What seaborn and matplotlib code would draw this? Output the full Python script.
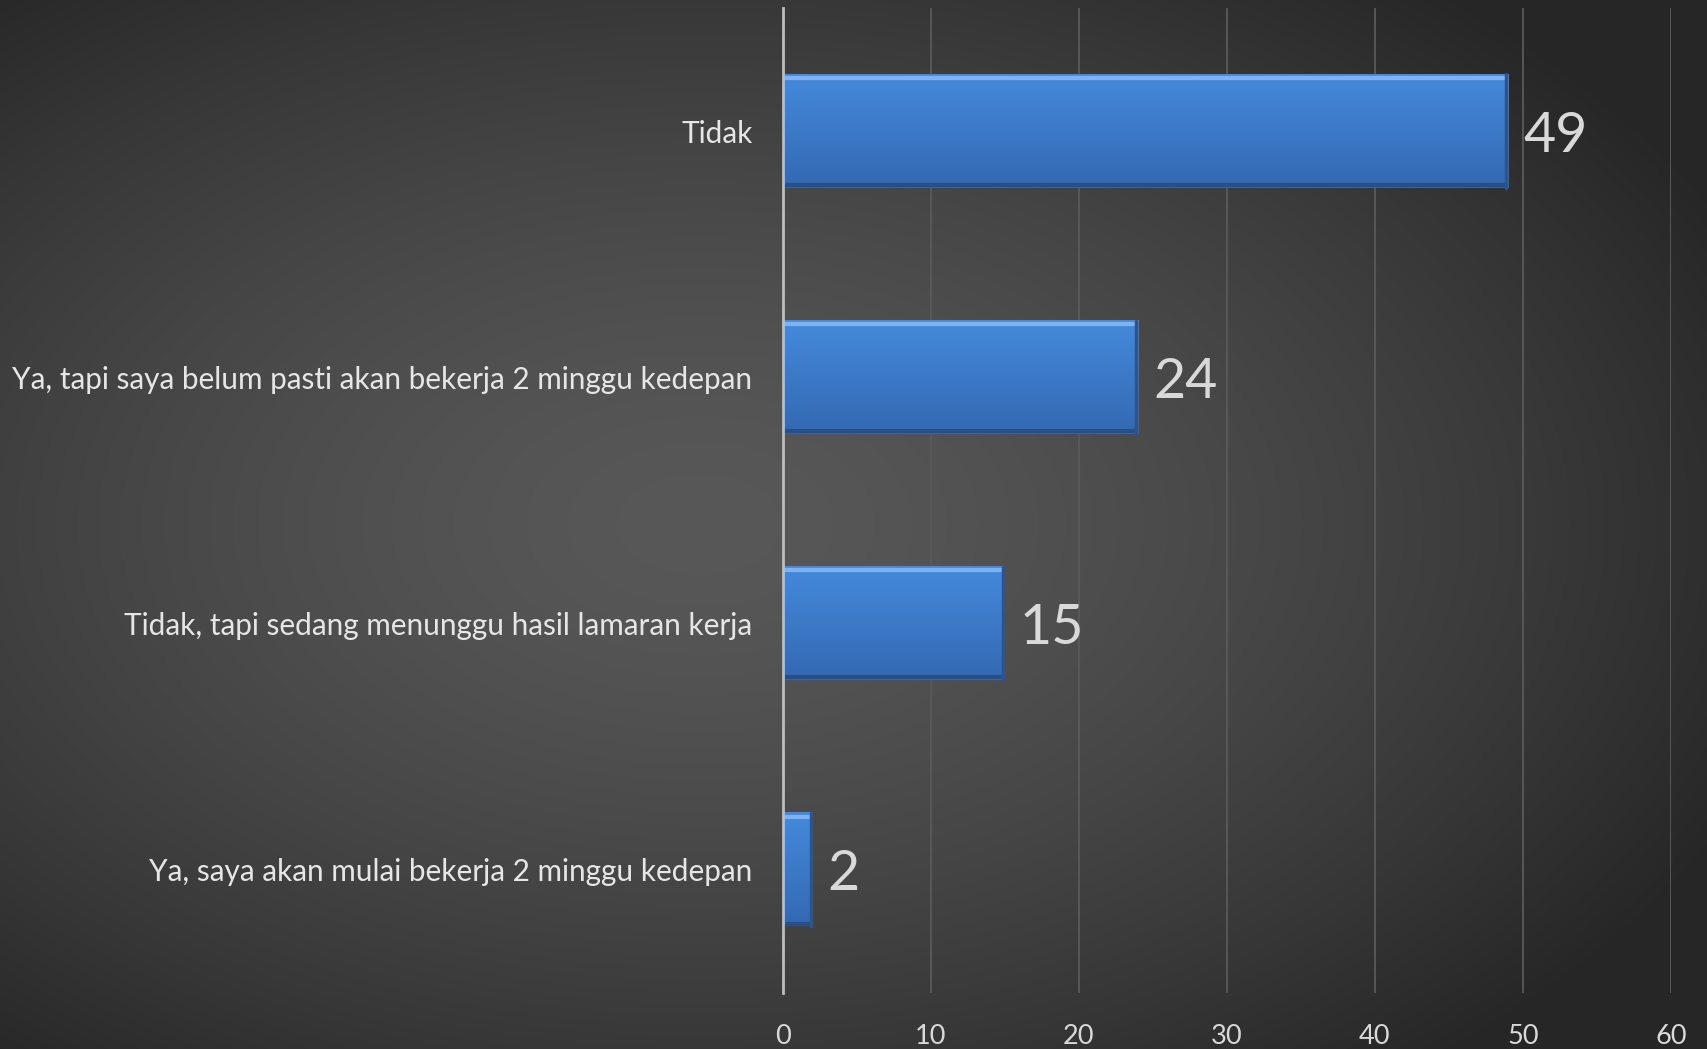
import matplotlib
matplotlib.use('Agg')
import matplotlib.pyplot as plt
import numpy as np
import pandas as pd
import seaborn as sns

categories = ['Tidak',
              'Ya, tapi saya belum pasti akan bekerja 2 minggu kedepan',
              'Tidak, tapi sedang menunggu hasil lamaran kerja',
              'Ya, saya akan mulai bekerja 2 minggu kedepan']
values = [49, 24, 15, 2]
x_ticks = [0, 10, 20, 30, 40, 50, 60]

df = pd.DataFrame({'answer': categories, 'count': values})

sns.set_style('dark')
plt.rcParams['font.family'] = ['Lato', 'DejaVu Sans']

fig = plt.figure(figsize=(17.08, 10.49), dpi=100)

# radial background, lighter around the middle
bg = fig.add_axes([0, 0, 1, 1], zorder=-1)
yy, xx = np.mgrid[0:1:400j, 0:1:650j]
r = np.sqrt(((xx - 0.41) / 0.6) ** 2 + ((yy - 0.50) / 0.6) ** 2)
shade = np.clip(0.345 - 0.165 * r ** 1.5, 0.15, 0.35)
bg.imshow(np.dstack([shade, shade, shade]), aspect='auto', extent=[0, 1, 0, 1])
bg.set_axis_off()

ax = fig.add_axes([0.4584, 0.0534, 0.5199, 0.9390])
ax.set_facecolor('none')
sns.barplot(data=df, x='count', y='answer', orient='h', order=categories,
            color='#3d7fd3', width=0.46, saturation=1, ax=ax, zorder=3)

# vertical gradient + bevel on each bar
grad = np.linspace(0, 1, 64).reshape(-1, 1)
top = np.array([0.27, 0.54, 0.86])
bot = np.array([0.20, 0.41, 0.70])
img = top + (bot - top) * grad[..., None]
img = np.repeat(img, 2, axis=1)
for p in ax.patches:
    x0, y0 = p.get_x(), p.get_y()
    w, h = p.get_width(), p.get_height()
    p.set_edgecolor('none')
    ax.imshow(img, aspect='auto', extent=[x0, x0 + w, y0 + h, y0],
              zorder=3.5, clip_path=p, clip_on=True)
    ax.plot([x0, x0 + w], [y0 + h * 0.03, y0 + h * 0.03], color='#7fb2f0', lw=3, zorder=4,
            solid_capstyle='butt')
    ax.plot([x0, x0 + w], [y0 + h * 0.975, y0 + h * 0.975], color='#274f86', lw=3, zorder=4,
            solid_capstyle='butt')
    ax.plot([x0 + w - 0.12, x0 + w - 0.12], [y0, y0 + h], color='#2a5593', lw=2.5, zorder=4)

ax.set_xlim(0, 60)
ax.set_ylim(3.5, -0.5)
ax.set_xticks(x_ticks)
ax.grid(axis='x', color='#5a5a5a', lw=1.3, zorder=0)
ax.grid(axis='y', visible=False)
for s in ['top', 'right', 'bottom']:
    ax.spines[s].set_visible(False)
ax.spines['left'].set_color('#bdbdbd')
ax.spines['left'].set_linewidth(2)
ax.spines['left'].set_zorder(5)

ax.tick_params(axis='x', length=0, pad=22, labelsize=19.5, labelcolor='#d9d9d9')
ax.tick_params(axis='y', length=0, pad=22, labelsize=21.4, labelcolor='#e6e6e6')
ax.set_xlabel('')
ax.set_ylabel('')

for i, v in enumerate(values):
    ax.text(v + 1.0, i + 0.02, str(v), va='center', ha='left', fontsize=40,
            color='#d9d9d9', zorder=6)

fig.savefig('out.png', dpi=100)
